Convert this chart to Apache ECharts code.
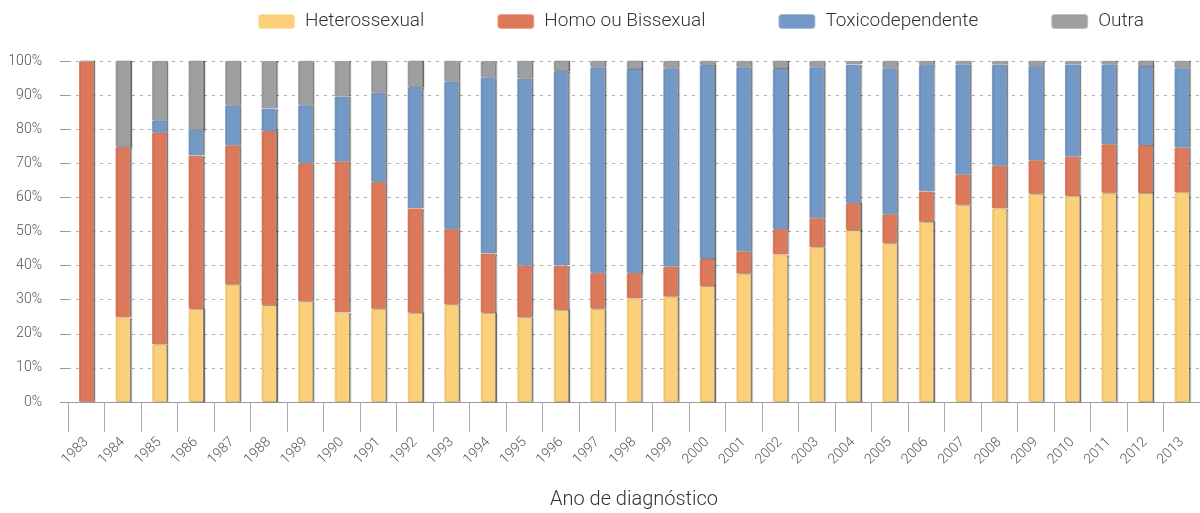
<!DOCTYPE html>
<html>
<head>
<meta charset="utf-8">
<script src="https://cdn.jsdelivr.net/npm/echarts@6/dist/echarts.min.js"></script>
<style>
  html, body { margin: 0; padding: 0; background: #fff; }
  #chart { width: 1200px; height: 513px; }
</style>
</head>
<body>
<div id="chart"></div>
<script>
var anos = ['1983','1984','1985','1986','1987','1988','1989','1990','1991','1992','1993','1994','1995','1996','1997','1998','1999','2000','2001','2002','2003','2004','2005','2006','2007','2008','2009','2010','2011','2012','2013'];

var hetero = [0, 24.8, 16.9, 27.3, 34.4, 28.4, 29.5, 26.3, 27.3, 26.1, 28.6, 26.1, 24.8, 27.0, 27.3, 30.3, 30.9, 34.0, 37.6, 43.2, 45.4, 50.4, 46.5, 52.8, 57.8, 56.8, 61.0, 60.4, 61.3, 61.3, 61.5];
var homo   = [100, 50.0, 62.1, 45.0, 40.9, 51.1, 40.6, 44.2, 37.2, 30.7, 22.1, 17.5, 15.2, 13.0, 10.5, 7.5, 8.8, 8.0, 6.6, 7.5, 8.5, 7.9, 8.6, 9.0, 8.9, 12.5, 9.9, 11.6, 14.3, 14.0, 13.1];
var toxico = [0, 0, 3.6, 7.5, 11.7, 6.6, 16.9, 19.1, 26.2, 35.6, 43.3, 51.6, 54.8, 57.1, 60.4, 59.9, 58.2, 56.8, 54.0, 47.2, 44.3, 40.7, 42.8, 37.0, 32.3, 29.7, 27.6, 27.0, 23.4, 23.2, 23.3];
var outra  = [0, 25.2, 17.4, 20.2, 13.0, 13.9, 13.0, 10.4, 9.3, 7.6, 6.0, 4.8, 5.2, 2.9, 1.8, 2.3, 2.1, 1.2, 1.8, 2.1, 1.8, 1.0, 2.1, 1.2, 1.0, 1.0, 1.5, 1.0, 1.0, 1.5, 2.1];

var nomes = ['Heterossexual', 'Homo ou Bissexual', 'Toxicodependente', 'Outra'];
var cores = ['#FBD079', '#DD795B', '#7399C7', '#9E9FA0'];
var legendCores = ['#FDD27C', '#D5604A', '#7098CC', '#A0A0A0'];

var chart = echarts.init(document.getElementById('chart'));

function serie(i, data) {
    return {
        name: nomes[i],
        type: 'bar',
        stack: 'total',
        barWidth: 15,
        data: data,
        itemStyle: {
            color: cores[i],
            borderColor: 'rgba(255,255,255,0.35)',
            borderWidth: 0.5,
            shadowColor: 'rgba(0,0,0,0.55)',
            shadowOffsetX: 1.5,
            shadowBlur: 1
        }
    };
}

var option = {
    backgroundColor: '#fff',
    textStyle: { fontFamily: 'Roboto' },
    color: legendCores,
    legend: {
        top: 7,
        left: 252,
        itemWidth: 37,
        itemHeight: 15,
        itemGap: 72,
        icon: 'roundRect',
        data: nomes,
        textStyle: { fontSize: 19, color: '#333', fontWeight: 300, fontFamily: 'Roboto', padding: [0, 0, 0, 5] }
    },
    grid: { left: 68, right: 0, top: 61, bottom: 111, outerBoundsMode: 'none' },
    xAxis: {
        type: 'category',
        data: anos,
        name: 'Ano de diagnóstico',
        nameLocation: 'middle',
        nameGap: 88,
        nameTextStyle: { fontSize: 20, color: '#333', fontWeight: 300 },
        axisLine: { lineStyle: { color: '#999' } },
        axisTick: { show: true, interval: 0, length: 30, lineStyle: { color: '#aaa' } },
        axisLabel: { interval: 0, rotate: 45, margin: 38, fontSize: 14, color: '#555', fontWeight: 300 }
    },
    yAxis: {
        type: 'value',
        min: 0,
        max: 100,
        interval: 10,
        axisLine: { show: false },
        axisTick: { show: true, length: 8, lineStyle: { color: '#999' } },
        axisLabel: { formatter: '{value}%', fontSize: 14, color: '#555', margin: 26, fontWeight: 300 },
        splitLine: { lineStyle: { color: '#aaa', type: [3, 5] } }
    },
    series: [
        serie(0, hetero),
        serie(1, homo),
        serie(2, toxico),
        serie(3, outra)
    ]
};

chart.setOption(option);
</script>
</body>
</html>
